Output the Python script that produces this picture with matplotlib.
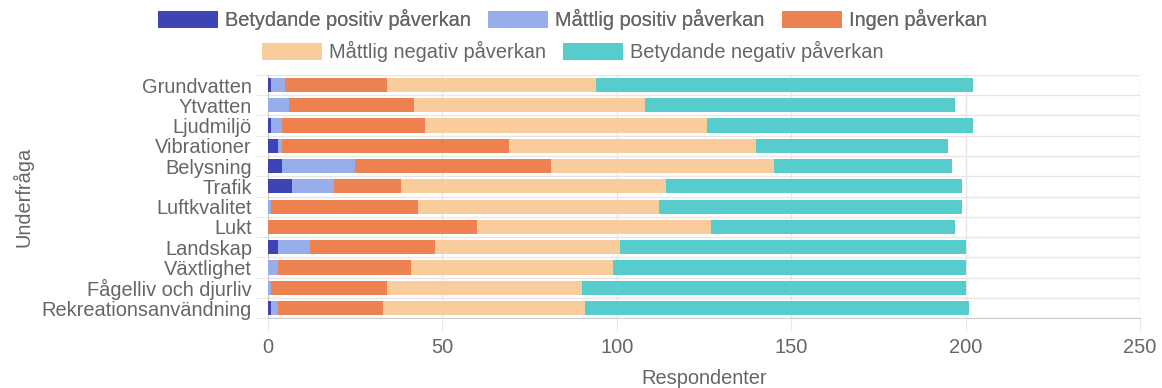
import numpy as np
import matplotlib
matplotlib.use("Agg")
import matplotlib.pyplot as plt
from matplotlib.patches import Patch

plt.rcParams['font.family'] = ['Liberation Sans', 'DejaVu Sans']

categories = ['Grundvatten', 'Ytvatten', 'Ljudmiljö', 'Vibrationer', 'Belysning', 'Trafik',
              'Luftkvalitet', 'Lukt', 'Landskap', 'Växtlighet', 'Fågelliv och djurliv',
              'Rekreationsanvändning']

series_names = ['Betydande positiv påverkan', 'Måttlig positiv påverkan', 'Ingen påverkan',
                'Måttlig negativ påverkan', 'Betydande negativ påverkan']

betydande_positiv = [1, 0, 1, 3, 4, 7, 0, 0, 3, 0, 0, 1]
mattlig_positiv = [4, 6, 3, 1, 21, 12, 1, 0, 9, 3, 1, 2]
ingen = [29, 36, 41, 65, 56, 19, 42, 60, 36, 38, 33, 30]
mattlig_negativ = [60, 66, 81, 71, 64, 76, 69, 67, 53, 58, 56, 58]
betydande_negativ = [108, 89, 76, 55, 51, 85, 87, 70, 99, 101, 110, 110]

colors = ['#3f44b5', '#98aeeb', '#ee8150', '#f8cc9b', '#56cdcc']
text_color = '#666666'
grid_color = '#e6e6e6'
fs = 14.4

fig = plt.figure(figsize=(11.62, 3.88), dpi=100)
ax = fig.add_axes([0.2306, 0.180, 0.7505, 0.627])

y = np.arange(len(categories))
left = np.zeros(len(categories))
all_series = [betydande_positiv, mattlig_positiv, ingen, mattlig_negativ, betydande_negativ]
for vals, col, name in zip(all_series, colors, series_names):
    ax.barh(y, vals, left=left, height=0.7, color=col, label=name, zorder=3)
    left += np.array(vals)

ax.set_ylim(len(categories) - 0.5, -0.5)
ax.set_xlim(0, 250)
ax.set_xticks([0, 50, 100, 150, 200, 250])
ax.set_yticks(y)
ax.set_yticklabels(categories)
ax.set_yticks(np.arange(len(categories) + 1) - 0.5, minor=True)

ax.grid(axis='x', which='major', color=grid_color, linewidth=1, zorder=0)
ax.grid(axis='y', which='minor', color=grid_color, linewidth=1, zorder=0)
ax.tick_params(axis='y', which='major', length=0, pad=11.5, labelsize=fs, labelcolor=text_color)
ax.tick_params(axis='y', which='minor', length=9, color=grid_color)
ax.tick_params(axis='x', length=9, color=grid_color, pad=5, labelsize=fs, labelcolor=text_color)

for side in ['top', 'right']:
    ax.spines[side].set_visible(False)
ax.spines['left'].set_color('#cccccc')
ax.spines['bottom'].set_color('#cccccc')

ax.set_xlabel('Respondenter', fontsize=fs, color=text_color, labelpad=9)
ax.set_ylabel('Underfråga', fontsize=fs, color=text_color, labelpad=6)

# legend in two centred rows
handles = [Patch(facecolor=c, edgecolor='none') for c in colors]
leg_kw = dict(loc='center', frameon=False, fontsize=fs, handlelength=3.0, handleheight=0.95,
              columnspacing=0.85, handletextpad=0.35, labelcolor=text_color)
leg1 = fig.legend(handles[:3], series_names[:3], bbox_to_anchor=(0.4927, 0.949), ncol=3, **leg_kw)
leg2 = fig.legend(handles[3:], series_names[3:], bbox_to_anchor=(0.4927, 0.867), ncol=2, **leg_kw)
fig.add_artist(leg1)

fig.savefig('out.png', dpi=100)
